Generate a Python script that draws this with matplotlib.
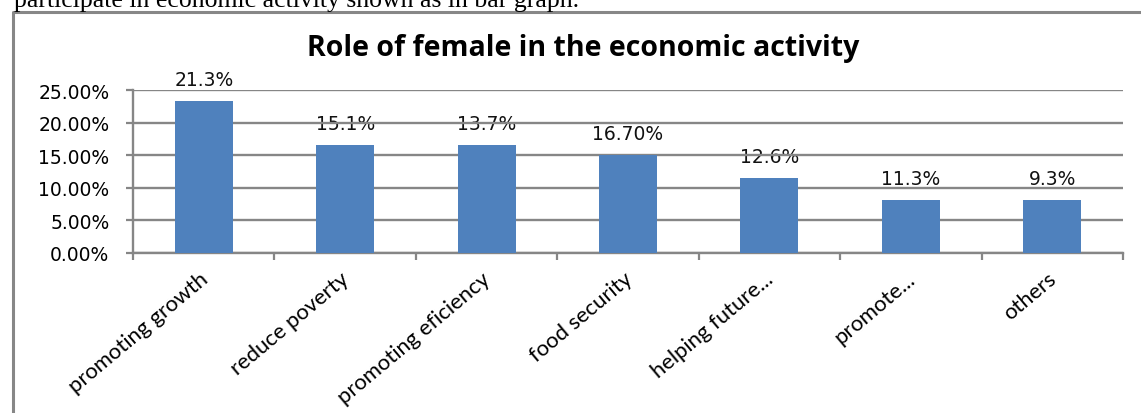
import matplotlib
matplotlib.use("Agg")  # no display

import matplotlib.pyplot as plt
import matplotlib.transforms as mtransforms
from matplotlib.lines import Line2D
from matplotlib.ticker import PercentFormatter, FixedLocator, NullFormatter

# Data (bar heights) and the printed labels (they differ in the original)
categories = ["promoting growth", "reduce poverty", "promoting eficiency", "food security",
              "helping future...", "promote...", "others"]
bar_heights = [23.3, 16.6, 16.6, 15.1, 11.5, 8.2, 8.2]
bar_labels = ["21.3%", "15.1%", "13.7%", "16.70%", "12.6%", "11.3%", "9.3%"]
y_ticks = [0, 5, 10, 15, 20, 25]

bar_color = "#4F81BD"
grid_color = "#868686"

fig = plt.figure(figsize=(11.41, 4.14), dpi=100)
ax = fig.add_axes([0.1166, 0.3865, 0.8676, 0.3935])

x = range(len(categories))
ax.bar(x, bar_heights, width=0.41, color=bar_color, zorder=3)

# value labels above bars (the grid passes over them, like the original)
for i, (h, lab) in enumerate(zip(bar_heights, bar_labels)):
    ax.annotate(lab, (i, h), xytext=(0, 11.5), textcoords="offset points",
                ha="center", va="baseline", fontsize=13.5, family="DejaVu Sans",
                color="#111111", zorder=1)

ax.set_xlim(-0.5, len(categories) - 0.5)
ax.set_ylim(0, 25)
ax.set_yticks(y_ticks)
ax.yaxis.set_major_formatter(PercentFormatter(decimals=2))
ax.set_axisbelow("line")
ax.grid(axis="y", color=grid_color, linewidth=1.7)

# category ticks sit between bars, labels at bar centres
ax.xaxis.set_major_locator(FixedLocator([i - 0.5 for i in range(len(categories) + 1)]))
ax.xaxis.set_major_formatter(NullFormatter())
ax.set_xticks(list(x), minor=True)
ax.set_xticklabels(categories, minor=True, rotation=40, ha="right", va="top",
                   rotation_mode="anchor", fontsize=15.8, family="Lato")
ax.tick_params(axis="x", which="minor", length=0, pad=9)
shift = mtransforms.ScaledTranslation(-5 / 100, -3 / 100, fig.dpi_scale_trans)
for lbl in ax.get_xticklabels(minor=True):
    lbl.set_transform(lbl.get_transform() + shift)
ax.tick_params(axis="x", which="major", direction="out", length=5, width=1.6, color=grid_color)
ax.tick_params(axis="y", direction="out", length=5, width=1.6, color=grid_color, pad=12,
               labelsize=13.5)
for lbl in ax.get_yticklabels():
    lbl.set_family("DejaVu Sans")

for side in ["top", "right"]:
    ax.spines[side].set_visible(False)
for side in ["left", "bottom"]:
    ax.spines[side].set_color(grid_color)
    ax.spines[side].set_linewidth(1.7)

# chart title
fig.text(0.511, 0.884, "Role of female in the economic activity", ha="center", va="center",
         fontsize=20.5, fontweight="bold", family="Open Sans")

# cut-off sentence from the document above the chart
fig.text(14 / 1141, 1 - 7 / 414, "participate in economic activity shown as in bar graph.",
         ha="left", va="baseline", fontsize=18.5, family="Liberation Serif")

# frame of the embedded chart (left and top edges visible)
fig.add_artist(Line2D([12.5 / 1141, 12.5 / 1141, 1.0], [0.0, 1 - 13 / 414, 1 - 13 / 414],
                      transform=fig.transFigure, color="#878787", linewidth=2.2))

fig.savefig("out.png", dpi=100)
